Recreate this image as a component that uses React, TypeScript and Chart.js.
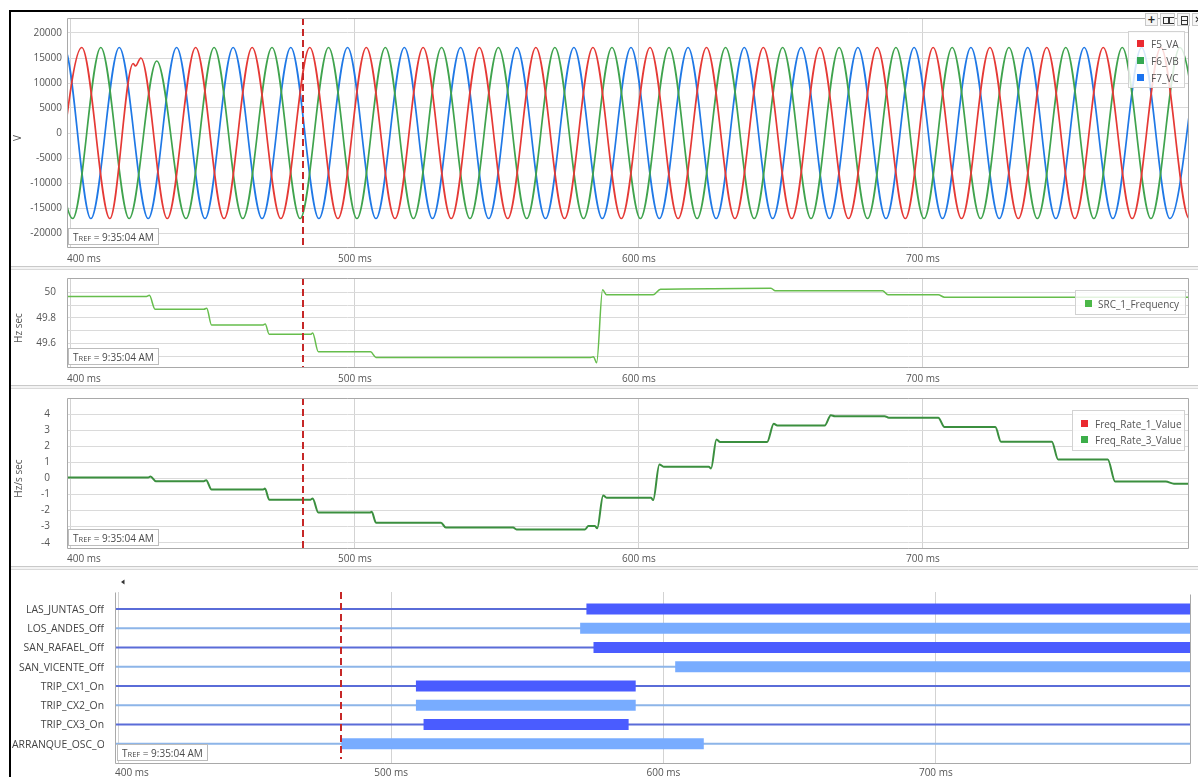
import React, { useEffect, useRef } from "react";
import { Chart, registerables } from "chart.js";

Chart.register(...registerables);

const FONT = "'Open Sans', 'Noto Sans', 'DejaVu Sans', sans-serif";
const TEXT = "#555555";
const FRAME = "#a9a9a9";
const GRID = "#dadada";
const CURSOR_COLOR = "#c62828";

type Pt = [number, number];

// ---------- shared time axis (ms) ----------
const X_MIN = 398.6;
const X_MAX = 793.7;
const X_TICKS = [400, 500, 600, 700];
const CURSOR_MS = 481.6;
const TREF_TIME = "9:35:04 AM";

// ---------- panel 1 : phase voltages (V), extrema ----------
const VOLT_NAMES = ["F5_VA", "F6_VB", "F7_VC"];
const VOLT_COLORS = ["#e53935", "#3fa34d", "#1f78e6"];
const VOLT_LEGEND_COLORS = ["#ea2a30", "#34a853", "#1a73f0"];
const VOLT_TICKS = [-20000, -15000, -10000, -5000, 0, 5000, 10000, 15000, 20000];

const F5_VA: Pt[] = [
  [393.8, -17100], [403.8, 17100], [413.7, -17100], [421.9, 13900], [422.7, 13400], [424.6, 15000],
  [433.9, -17100], [443.9, 17100], [453.9, -17100], [463.8, 17100], [473.9, -17100], [484.1, 17100],
  [494.0, -17100], [504.0, 17100], [514.1, -17100], [524.0, 17100], [533.9, -17100], [543.8, 17100],
  [553.8, -17100], [563.7, 17100], [573.8, -17100], [583.8, 17100], [593.8, -17100], [603.9, 17100],
  [613.8, -17100], [623.8, 17100], [633.8, -17100], [643.8, 17100], [653.8, -17100], [663.7, 17100],
  [673.8, -17100], [683.9, 17100], [693.8, -17100], [703.6, 17100], [713.6, -17100], [723.6, 17100],
  [733.6, -17100], [743.6, 17100], [753.5, -17100], [763.5, 17100], [773.7, -17100], [783.8, 17100],
  [793.8, -17100], [803.8, 17100],
];

const F6_VB: Pt[] = [
  [390.6, 17100], [400.6, -17100], [410.5, 17100], [420.5, -17100], [430.2, 14400], [440.5, -17100],
  [450.4, 17100], [460.5, -17100], [470.8, 17100], [480.7, -17100], [490.7, 17100], [500.7, -17100],
  [510.7, 17100], [520.6, -17100], [530.5, 17100], [540.5, -17100], [550.5, 17100], [560.5, -17100],
  [570.4, 17100], [580.5, -17100], [590.5, 17100], [600.5, -17100], [610.6, 17100], [620.5, -17100],
  [630.5, 17100], [640.6, -17100], [650.6, 17100], [660.6, -17100], [670.5, 17100], [680.5, -17100],
  [690.5, 17100], [700.4, -17100], [710.3, 17100], [720.3, -17100], [730.3, 17100], [740.3, -17100],
  [750.3, 17100], [760.2, -17100], [770.2, 17100], [780.3, -17100], [790.5, 17100], [800.5, -17100],
];

const F7_VC: Pt[] = [
  [387.6, -17100], [397.6, 17100], [407.0, -17100], [417.0, 17100], [427.2, -17100], [437.2, 17100],
  [447.2, -17100], [457.1, 17100], [467.3, -17100], [477.4, 17100], [487.3, -17100], [497.4, 17100],
  [507.4, -17100], [517.4, 17100], [527.3, -17100], [537.2, 17100], [547.1, -17100], [557.0, 17100],
  [567.1, -17100], [577.1, 17100], [587.1, -17100], [597.2, 17100], [607.2, -17100], [617.3, 17100],
  [627.2, -17100], [637.1, 17100], [647.1, -17100], [657.1, 17100], [667.1, -17100], [677.1, 17100],
  [687.0, -17100], [696.9, 17100], [706.9, -17100], [716.9, 17100], [726.9, -17100], [736.9, 17100],
  [746.8, -17100], [756.8, 17100], [766.9, -17100], [777.0, 17100], [787.0, -17100], [797.0, 17100],
];

// ---------- panel 2 : frequency (Hz) ----------
const FREQ_NAME = "SRC_1_Frequency";
const FREQ_COLOR = "#66bd4c";
const FREQ_TICKS = [49.5, 49.6, 49.7, 49.8, 49.9, 50];
const FREQ_LABELLED = [49.6, 49.8, 50];
const SRC_1_FREQUENCY: Pt[] = [
  [398.6, 49.966], [426.6, 49.966], [427.6, 49.975], [429.6, 49.867], [446.8, 49.867], [447.8, 49.875],
  [449.5, 49.745], [467.7, 49.745], [468.4, 49.752], [469.8, 49.672], [484.4, 49.672], [485.1, 49.682],
  [487.1, 49.536], [505.5, 49.536], [507.4, 49.492], [583.0, 49.492], [584.0, 49.498], [585.1, 49.45],
  [587.2, 50.018], [588.6, 49.979], [605.0, 49.979], [607.6, 50.023], [626.0, 50.027], [646.5, 50.031],
  [648.0, 50.01], [685.8, 50.01], [687.7, 49.979], [705.4, 49.979], [707.6, 49.961], [793.7, 49.961],
];

// ---------- panel 3 : frequency rate (Hz/s) ----------
const RATE_NAMES = ["Freq_Rate_1_Value", "Freq_Rate_3_Value"];
const RATE_COLORS = ["#e53935", "#3b8f3f"];
const RATE_LEGEND_COLORS = ["#ea2a30", "#3cae4a"];
const RATE_TICKS = [-4, -3, -2, -1, 0, 1, 2, 3, 4];
const FREQ_RATE_1: Pt[] = [];
const FREQ_RATE_3: Pt[] = [
  [398.6, 0.05], [427.2, 0.05], [428.0, 0.12], [429.9, -0.17], [446.8, -0.17], [447.6, -0.12],
  [449.5, -0.69], [467.7, -0.69], [468.3, -0.63], [469.8, -1.32], [484.4, -1.32], [485.1, -1.25],
  [487.1, -2.12], [505.3, -2.12], [505.9, -2.07], [507.4, -2.75], [530.3, -2.75], [532.0, -3.06],
  [555.7, -3.06], [556.9, -3.17], [581.0, -3.17], [582.2, -2.96], [584.5, -2.96], [585.3, -3.1],
  [587.4, -1.06], [588.6, -1.2], [604.3, -1.2], [605.0, -1.35], [607.2, 0.87], [608.7, 0.73],
  [624.6, 0.73], [625.4, 0.62], [627.3, 2.42], [628.6, 2.26], [645.1, 2.26], [647.5, 3.4],
  [648.7, 3.29], [665.4, 3.29], [667.6, 3.93], [669.0, 3.87], [686.5, 3.87], [688.0, 3.77],
  [705.4, 3.77], [707.6, 3.19], [725.5, 3.19], [727.5, 2.28], [745.4, 2.28], [747.6, 1.18],
  [765.1, 1.18], [767.7, -0.2], [785.5, -0.2], [788.4, -0.33], [793.7, -0.33],
];

// ---------- panel 4 : digital channels ----------
const DIGITAL_NAMES = [
  "LAS_JUNTAS_Off", "LOS_ANDES_Off", "SAN_RAFAEL_Off", "SAN_VICENTE_Off",
  "TRIP_CX1_On", "TRIP_CX2_On", "TRIP_CX3_On", "ARRANQUE_OSC_On",
];
// [start ms, end ms] of the active state
const DIGITAL_ON: Pt[] = [
  [571.7, 800], [569.4, 800], [574.3, 800], [604.3, 800],
  [509.1, 589.8], [509.1, 589.8], [511.9, 587.2], [481.7, 614.8],
];
const DIGITAL_THICK = ["#4a5cff", "#78acff"];
const DIGITAL_THIN = ["#5a6cd8", "#8db5e8"];

// ---------- helpers ----------
function lineDs(label: string, pts: Pt[], color: string, width: number, smooth: boolean) {
  return {
    label,
    data: pts.map(([x, y]) => ({ x, y })),
    borderColor: color,
    backgroundColor: color,
    borderWidth: width,
    pointRadius: 0,
    fill: false,
    cubicInterpolationMode: smooth ? "monotone" : "default",
    tension: 0,
    clip: 0,
  };
}

function xAxis() {
  return {
    type: "linear",
    min: X_MIN,
    max: X_MAX,
    afterBuildTicks: (s: any) => {
      s.ticks = X_TICKS.map((value) => ({ value }));
    },
    afterFit: (s: any) => {
      s.height = 0;
      s.paddingLeft = 0;
      s.paddingRight = 0;
    },
    ticks: { display: false },
    grid: { color: "#d3d3d3", drawTicks: false },
    border: { display: false },
  };
}

function yAxis(
  min: number,
  max: number,
  ticks: number[],
  fmt: ((v: number) => string) | null,
  width: number,
  pad: number,
  extra: any = {}
) {
  return {
    type: "linear",
    min,
    max,
    afterBuildTicks: (s: any) => {
      s.ticks = ticks.map((value) => ({ value }));
    },
    afterFit: (s: any) => {
      s.width = width;
      s.paddingTop = 0;
      s.paddingBottom = 0;
    },
    ticks: {
      display: !!fmt,
      autoSkip: false,
      padding: pad,
      color: TEXT,
      font: { family: FONT, size: 10 },
      callback: (v: any) => (fmt ? fmt(Number(v)) : ""),
    },
    grid: { display: ticks.length > 0, color: GRID, drawTicks: false },
    border: { display: false },
    ...extra,
  };
}

function drawTref(ctx: CanvasRenderingContext2D, x: number, y: number) {
  ctx.save();
  ctx.font = `10px ${FONT}`;
  const w1 = ctx.measureText("T").width;
  ctx.font = `7.5px ${FONT}`;
  const w2 = ctx.measureText("REF").width;
  ctx.font = `10px ${FONT}`;
  const rest = " = " + TREF_TIME;
  const w3 = ctx.measureText(rest).width;
  const W = Math.round(w1 + w2 + w3 + 9);
  const X = Math.round(x);
  const Y = Math.round(y);
  ctx.fillStyle = "#ffffff";
  ctx.fillRect(X, Y, W, 17);
  ctx.strokeStyle = "#bcbcbc";
  ctx.lineWidth = 1;
  ctx.strokeRect(X + 0.5, Y + 0.5, W, 16);
  ctx.fillStyle = "#4a4a4a";
  ctx.textBaseline = "alphabetic";
  ctx.textAlign = "left";
  let tx = X + 5;
  const base = Y + 12.5;
  ctx.font = `10px ${FONT}`;
  ctx.fillText("T", tx, base);
  tx += w1;
  ctx.font = `7.5px ${FONT}`;
  ctx.fillText("REF", tx, base);
  tx += w2;
  ctx.font = `10px ${FONT}`;
  ctx.fillText(rest, tx, base);
  ctx.restore();
}

type DecoCfg = {
  title?: string;
  titleX: number;
  fullBox: boolean;
  xLabelDy: number;
  cursorInset: number;
  rowLabels?: string[];
  arrow?: boolean;
  trefDx: number;
};

function makeDeco(cfg: DecoCfg) {
  return {
    id: "deco",
    afterDatasetsDraw(chart: any) {
      const { ctx, chartArea: a } = chart;
      const x = Math.round(chart.scales.x.getPixelForValue(CURSOR_MS));
      ctx.save();
      ctx.strokeStyle = CURSOR_COLOR;
      ctx.lineWidth = 2;
      ctx.setLineDash([7, 4]);
      ctx.beginPath();
      ctx.moveTo(x, a.top);
      ctx.lineTo(x, a.bottom - cfg.cursorInset);
      ctx.stroke();
      ctx.restore();
    },
    afterDraw(chart: any) {
      const { ctx, chartArea: a, scales } = chart;
      ctx.save();
      // frame
      ctx.strokeStyle = FRAME;
      ctx.lineWidth = 1;
      const L = Math.round(a.left) + 0.5;
      const R = Math.round(a.right) - 0.5;
      const T = Math.round(a.top) + 0.5;
      const B = Math.round(a.bottom) - 0.5;
      ctx.beginPath();
      if (cfg.fullBox) {
        ctx.rect(L, T, R - L, B - T);
      } else {
        ctx.moveTo(L, T);
        ctx.lineTo(L, B);
        ctx.lineTo(R, B);
        ctx.lineTo(R, T + 2);
      }
      ctx.stroke();

      // x tick labels
      ctx.font = `10px ${FONT}`;
      ctx.fillStyle = TEXT;
      ctx.textBaseline = "middle";
      ctx.textAlign = "left";
      for (const v of X_TICKS) {
        const s = `${v} ms`;
        const w = ctx.measureText(s).width;
        const px = scales.x.getPixelForValue(v);
        ctx.fillText(s, Math.max(px - w / 2, a.left), a.bottom + cfg.xLabelDy);
      }

      // axis title
      if (cfg.title) {
        ctx.save();
        ctx.translate(cfg.titleX, (a.top + a.bottom) / 2 + 5);
        ctx.rotate(-Math.PI / 2);
        ctx.textAlign = "center";
        ctx.textBaseline = "middle";
        ctx.fillStyle = TEXT;
        ctx.font = `10px ${FONT}`;
        ctx.fillText(cfg.title, 0, 0);
        ctx.restore();
      }

      // category labels
      if (cfg.rowLabels) {
        const right = a.left - 11;
        const leftLim = 1;
        ctx.font = `10.4px ${FONT}`;
        ctx.fillStyle = "#444444";
        ctx.textBaseline = "middle";
        cfg.rowLabels.forEach((lab, i) => {
          const y = scales.y.getPixelForValue(i);
          const w = ctx.measureText(lab).width;
          ctx.save();
          ctx.beginPath();
          ctx.rect(leftLim, y - 10, right - leftLim, 20);
          ctx.clip();
          if (w > right - leftLim) {
            ctx.textAlign = "left";
            ctx.fillText(lab, leftLim, y + 1);
          } else {
            ctx.textAlign = "right";
            ctx.fillText(lab, right, y + 1);
          }
          ctx.restore();
        });
      }

      if (cfg.arrow) {
        const ax = a.left + 6;
        const ay = a.top - 10;
        ctx.fillStyle = "#333333";
        ctx.beginPath();
        ctx.moveTo(ax, ay);
        ctx.lineTo(ax + 3.5, ay - 2.5);
        ctx.lineTo(ax + 3.5, ay + 2.5);
        ctx.closePath();
        ctx.fill();
      }

      drawTref(ctx, a.left + cfg.trefDx, a.bottom - 20);
      ctx.restore();
    },
  };
}

function baseOptions(padding: any, yScale: any) {
  return {
    responsive: false,
    animation: false,
    devicePixelRatio: 1,
    events: [],
    layout: { padding },
    plugins: { legend: { display: false }, tooltip: { enabled: false } },
    scales: { x: xAxis(), y: yScale },
  };
}

// ---------- layout ----------
const CANVAS_BOXES = [
  { left: 11, top: 12, width: 1187, height: 254 },
  { left: 11, top: 268, width: 1187, height: 118 },
  { left: 11, top: 388, width: 1187, height: 178 },
  { left: 11, top: 569, width: 1187, height: 208 },
];

function LegendBox(props: {
  left: number;
  top: number;
  width: number;
  height: number;
  names: string[];
  colors: string[];
  sqX: number;
  txtX: number;
  rowY: number[];
}) {
  return (
    <div
      style={{
        position: "absolute",
        left: props.left,
        top: props.top,
        width: props.width,
        height: props.height,
        border: "1px solid #d2d2d2",
        background: "rgba(255,255,255,0.82)",
        boxSizing: "border-box",
        fontFamily: FONT,
        fontSize: 10,
        color: TEXT,
      }}
    >
      {props.names.map((n, i) => (
        <React.Fragment key={n}>
          <div
            style={{
              position: "absolute",
              left: props.sqX,
              top: props.rowY[i] - 4,
              width: 7,
              height: 7,
              background: props.colors[i],
            }}
          />
          <div
            style={{
              position: "absolute",
              left: props.txtX,
              top: props.rowY[i] - 8,
              height: 16,
              lineHeight: "16px",
              whiteSpace: "nowrap",
            }}
          >
            {n}
          </div>
        </React.Fragment>
      ))}
    </div>
  );
}

const btnStyle = (left: number, width: number): React.CSSProperties => ({
  position: "absolute",
  left,
  top: 13,
  width,
  height: 13,
  boxSizing: "border-box",
  border: "1px solid #c8c8c8",
  background: "#f6f6f6",
  overflow: "hidden",
});

function Toolbar() {
  const glyph: React.CSSProperties = {
    fontFamily: "'DejaVu Sans', sans-serif",
    fontSize: 10,
    fontWeight: 700,
    lineHeight: "11px",
    textAlign: "center",
    color: "#222",
  };
  return (
    <>
      <div style={{ ...btnStyle(1145, 13), ...glyph }}>+</div>
      <div style={btnStyle(1160, 15)}>
        <div style={{ position: "absolute", left: 2, top: 3, width: 4, height: 5, border: "1px solid #333" }} />
        <div style={{ position: "absolute", left: 8, top: 3, width: 4, height: 5, border: "1px solid #333" }} />
      </div>
      <div style={btnStyle(1177, 13)}>
        <div style={{ position: "absolute", left: 3, top: 2, width: 5, height: 3, border: "1px solid #333" }} />
        <div style={{ position: "absolute", left: 3, top: 6, width: 5, height: 3, border: "1px solid #333" }} />
      </div>
      <div style={{ ...btnStyle(1192, 13), ...glyph }}>✕</div>
    </>
  );
}

export default function App() {
  const r1 = useRef<HTMLCanvasElement>(null);
  const r2 = useRef<HTMLCanvasElement>(null);
  const r3 = useRef<HTMLCanvasElement>(null);
  const r4 = useRef<HTMLCanvasElement>(null);

  useEffect(() => {
    const voltSeries = [F5_VA, F6_VB, F7_VC];
    const c1 = new Chart(r1.current as HTMLCanvasElement, {
      type: "line",
      data: {
        datasets: VOLT_NAMES.map((n, i) => lineDs(n, voltSeries[i], VOLT_COLORS[i], 1.7, true)) as any,
      },
      options: baseOptions(
        { top: 6, bottom: 18, right: 9, left: 0 },
        yAxis(-23000, 23000, VOLT_TICKS, (v) => String(v), 56, 5)
      ) as any,
      plugins: [
        makeDeco({ title: "V", titleX: 7.5, fullBox: true, xLabelDy: 11, cursorInset: 0, trefDx: 1 }),
      ],
    });

    const c2 = new Chart(r2.current as HTMLCanvasElement, {
      type: "line",
      data: {
        datasets: [lineDs(FREQ_NAME, SRC_1_FREQUENCY, FREQ_COLOR, 1.5, true)] as any,
      },
      options: baseOptions(
        { top: 10, bottom: 18, right: 9, left: 0 },
        yAxis(49.41, 50.11, FREQ_TICKS, (v) => (FREQ_LABELLED.some((t) => Math.abs(t - v) < 1e-6) ? String(v) : ""), 56, 11)
      ) as any,
      plugins: [
        makeDeco({ title: "Hz sec", titleX: 8, fullBox: true, xLabelDy: 11, cursorInset: 0, trefDx: 1 }),
      ],
    });

    const c3 = new Chart(r3.current as HTMLCanvasElement, {
      type: "line",
      data: {
        datasets: [
          lineDs(RATE_NAMES[1], FREQ_RATE_3, RATE_COLORS[1], 2, true),
          lineDs(RATE_NAMES[0], FREQ_RATE_1, RATE_COLORS[0], 2, true),
        ] as any,
      },
      options: baseOptions(
        { top: 10, bottom: 17, right: 9, left: 0 },
        yAxis(-4.39, 5.0, RATE_TICKS, (v) => String(v), 56, 17)
      ) as any,
      plugins: [
        makeDeco({ title: "Hz/s sec", titleX: 8, fullBox: true, xLabelDy: 10, cursorInset: 0, trefDx: 1 }),
      ],
    });

    const digitalSets: any[] = [];
    DIGITAL_NAMES.forEach((n, i) => {
      digitalSets.push(
        lineDs(n + " (off)", [[X_MIN - 5, i], [X_MAX + 5, i]], DIGITAL_THIN[i % 2], 2, false)
      );
      const [s, e] = DIGITAL_ON[i];
      const on = lineDs(n, [[s, i], [e, i]], DIGITAL_THICK[i % 2], 11, false) as any;
      on.borderCapStyle = "butt";
      digitalSets.push(on);
    });
    const c4 = new Chart(r4.current as HTMLCanvasElement, {
      type: "line",
      data: { datasets: digitalSets.reverse() },
      options: baseOptions(
        { top: 23, bottom: 13, right: 7, left: 0 },
        yAxis(-0.88, 8.05, [], null, 104, 0, { reverse: true })
      ) as any,
      plugins: [
        makeDeco({
          titleX: 0,
          fullBox: false,
          xLabelDy: 9,
          cursorInset: 5,
          rowLabels: DIGITAL_NAMES,
          arrow: true,
          trefDx: 2,
        }),
      ],
    });

    return () => {
      c1.destroy();
      c2.destroy();
      c3.destroy();
      c4.destroy();
    };
  }, []);

  const refs = [r1, r2, r3, r4];

  return (
    <div
      style={{
        position: "absolute",
        left: 0,
        top: 0,
        width: 1198,
        height: 777,
        overflow: "hidden",
        background: "#ffffff",
        fontFamily: FONT,
      }}
    >
      {/* panel separators */}
      {[266, 385, 566].map((y) => (
        <div
          key={y}
          style={{
            position: "absolute",
            left: 11,
            top: y,
            width: 1187,
            height: 4,
            boxSizing: "border-box",
            background: "#f3f3f3",
            borderTop: "1px solid #c9c9c9",
            borderBottom: "1px solid #dadada",
          }}
        />
      ))}

      {CANVAS_BOXES.map((b, i) => (
        <canvas
          key={i}
          ref={refs[i]}
          width={b.width}
          height={b.height}
          style={{ position: "absolute", left: b.left, top: b.top, width: b.width, height: b.height }}
        />
      ))}

      {/* outer black frame */}
      <div style={{ position: "absolute", left: 9, top: 10, width: 1189, height: 2, background: "#000" }} />
      <div style={{ position: "absolute", left: 9, top: 10, width: 2, height: 767, background: "#000" }} />

      <Toolbar />

      <LegendBox
        left={1128}
        top={31}
        width={57}
        height={57}
        names={VOLT_NAMES}
        colors={VOLT_LEGEND_COLORS}
        sqX={8}
        txtX={22}
        rowY={[12, 29, 45.5]}
      />
      <LegendBox
        left={1075}
        top={290}
        width={111}
        height={25}
        names={[FREQ_NAME]}
        colors={["#4cb848"]}
        sqX={9}
        txtX={22}
        rowY={[12.5]}
      />
      <LegendBox
        left={1072}
        top={410}
        width={113}
        height={41}
        names={RATE_NAMES}
        colors={RATE_LEGEND_COLORS}
        sqX={8}
        txtX={22}
        rowY={[13, 29]}
      />
    </div>
  );
}
